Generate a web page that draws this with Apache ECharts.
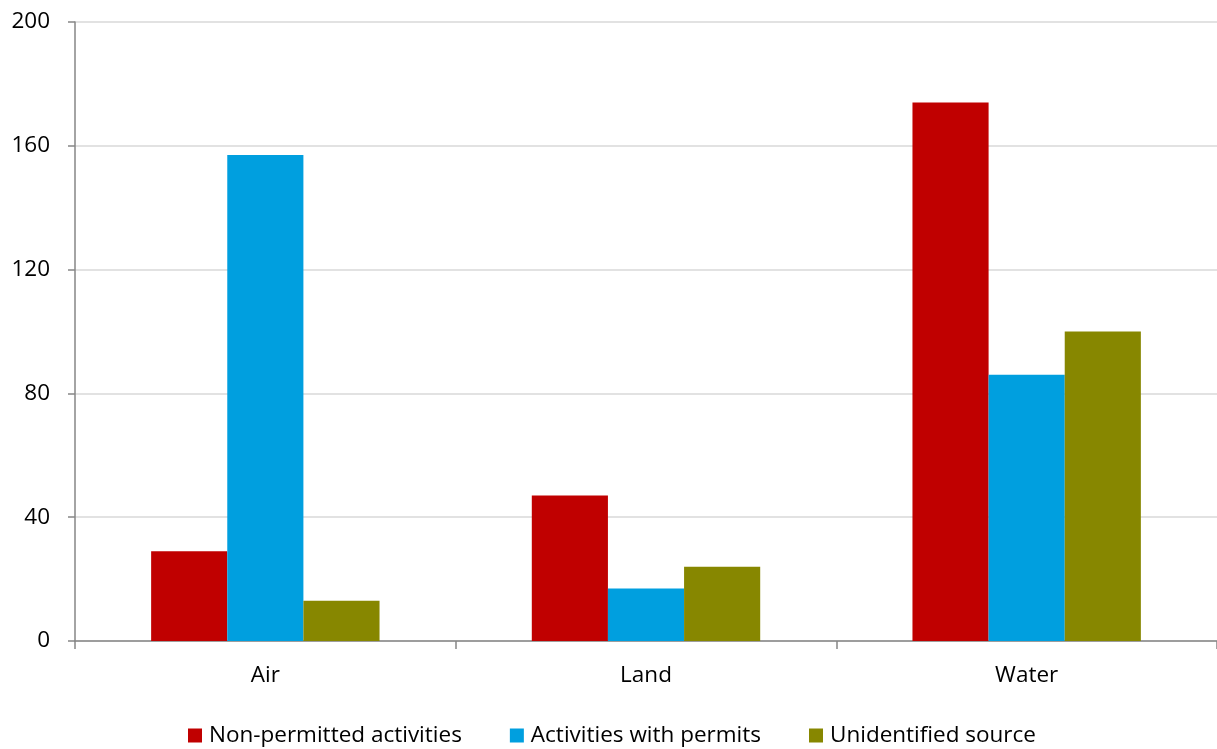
<!DOCTYPE html>
<html><head><meta charset="utf-8">
<script src="https://cdn.jsdelivr.net/npm/echarts@6/dist/echarts.min.js"></script>
<style>html,body{margin:0;padding:0;background:#fff}#c{width:1217px;height:749px}</style>
</head><body><div id="c"></div>
<script>
const categories = ['Air', 'Land', 'Water'];
const seriesNames = ['Non-permitted activities', 'Activities with permits', 'Unidentified source'];
const nonPermitted = [29, 47, 174];
const withPermits = [157, 17, 86];
const unidentified = [13, 24, 100];
const yTicks = [0, 40, 80, 120, 160, 200];
const colors = ['#C00000', '#009FDF', '#878700'];

const font = 'Open Sans';
const chart = echarts.init(document.getElementById('c'));
const data = [nonPermitted, withPermits, unidentified];
chart.setOption({
  animation: false,
  color: colors,
  grid: {left: 75, top: 22, width: 1147, height: 619, containLabel: false},
  legend: {
    top: 719, left: 183, itemWidth: 14, itemHeight: 14, itemGap: 48,
    icon: 'rect',
    textStyle: {fontFamily: font, fontSize: 22.5, color: '#000', padding: [0, 0, 0, 2]},
    data: seriesNames
  },
  xAxis: {
    type: 'category', data: categories,
    axisLine: {lineStyle: {color: '#868686', width: 1.5}},
    axisTick: {show: true, length: 8, lineStyle: {color: '#868686', width: 1.5}},
    axisLabel: {fontFamily: font, fontSize: 22.5, color: '#000', margin: 23}
  },
  yAxis: {
    type: 'value', min: yTicks[0], max: yTicks[yTicks.length - 1], interval: 40,
    axisLine: {show: true, lineStyle: {color: '#868686', width: 1.5}},
    axisTick: {show: true, length: 7, lineStyle: {color: '#868686', width: 1.5}},
    splitLine: {lineStyle: {color: '#D9D9D9', width: 1.5}},
    axisLabel: {fontFamily: font, fontSize: 22.5, color: '#000', margin: 25}
  },
  series: seriesNames.map((n, i) => ({
    name: n, type: 'bar', data: data[i],
    barGap: '0%', barCategoryGap: '40%'
  }))
});
</script></body></html>
